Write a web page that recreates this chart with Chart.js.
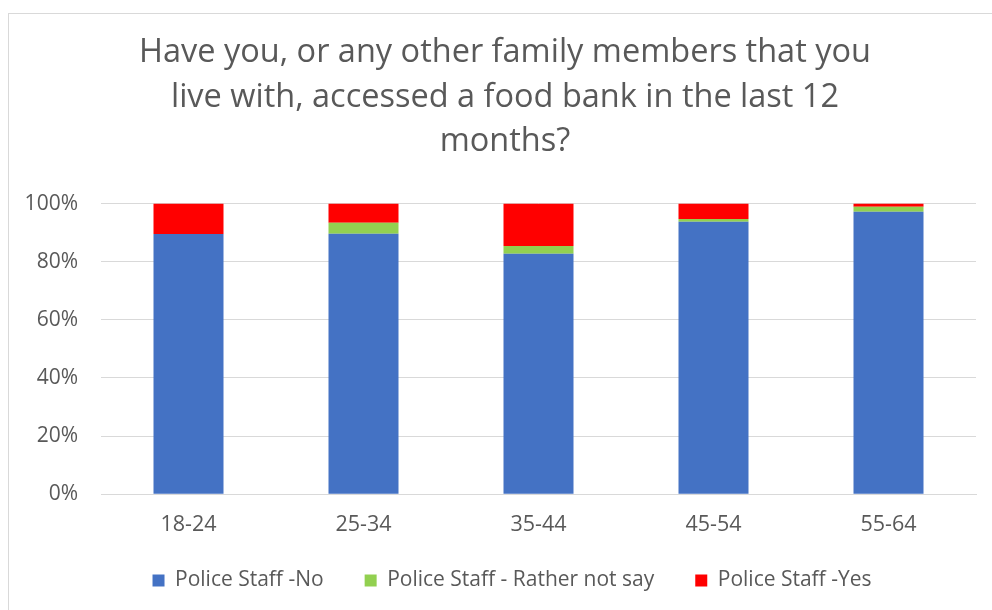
<!DOCTYPE html>
<html>
<head>
<meta charset="utf-8">
<script src="https://cdn.jsdelivr.net/npm/chart.js@4/dist/chart.umd.min.js"></script>
<style>
  html, body { margin: 0; padding: 0; background: #fff; }
  #frame {
    position: absolute; left: 8px; top: 13px; width: 1000px; height: 620px;
    border: 1px solid #d9d9d9; box-sizing: border-box;
  }
  #wrap { position: absolute; left: 0; top: 0; width: 992px; height: 610px; }
</style>
</head>
<body>
<div id="frame"></div>
<div id="wrap"><canvas id="myChart" width="992" height="610"></canvas></div>
<script>
const AGE_GROUPS = ['18-24', '25-34', '35-44', '45-54', '55-64'];

const STAFF_NO      = [89.5, 89.6, 82.7, 93.7, 97.2];
const STAFF_RATHER  = [0.0, 3.8, 2.7, 1.0, 1.7];
const STAFF_YES     = [10.5, 6.6, 14.6, 5.3, 1.1];

const Y_TICKS = [0, 20, 40, 60, 80, 100];

const TITLE_LINES = [
    'Have you, or any other family members that you',
    'live with, accessed a food bank in the last 12',
    'months?'
];

const TEXT_COLOR = '#595959';
const FONT = "'Open Sans', sans-serif";

// nudge title / legend after layout so they sit centred on the framed box
const nudgeBoxes = {
    id: 'nudgeBoxes',
    afterLayout(chart) {
        chart.titleBlock.left = 34;
        const lg = chart.legend;
        lg.left = 48;
        lg.top -= 19;
        lg.bottom -= 19;
    }
};

const ctx = document.getElementById('myChart').getContext('2d');

new Chart(ctx, {
    type: 'bar',
    data: {
        labels: AGE_GROUPS,
        datasets: [
            { label: 'Police Staff -No', data: STAFF_NO, backgroundColor: '#4472c4' },
            { label: 'Police Staff - Rather not say', data: STAFF_RATHER, backgroundColor: '#92d050' },
            { label: 'Police Staff -Yes', data: STAFF_YES, backgroundColor: '#ff0000' }
        ]
    },
    plugins: [nudgeBoxes],
    options: {
        responsive: false,
        animation: false,
        layout: { padding: { left: 8, right: 16, top: 30, bottom: 0 } },
        datasets: {
            bar: { categoryPercentage: 0.4, barPercentage: 1.0, borderWidth: 0 }
        },
        plugins: {
            title: {
                display: true,
                text: TITLE_LINES,
                color: TEXT_COLOR,
                font: { family: FONT, size: 32.5, weight: 'normal', lineHeight: 1.38 },
                padding: { top: 0, bottom: 39 }
            },
            legend: {
                position: 'bottom',
                maxHeight: 62,
                labels: {
                    color: TEXT_COLOR,
                    font: { family: FONT, size: 21 },
                    boxWidth: 12,
                    boxHeight: 12,
                    padding: 41
                }
            },
            tooltip: { enabled: false }
        },
        scales: {
            x: {
                stacked: true,
                grid: { display: false },
                border: { display: true, color: '#d9d9d9', width: 1 },
                ticks: { color: TEXT_COLOR, font: { family: FONT, size: 21.5 }, padding: 10 }
            },
            y: {
                stacked: true,
                min: 0,
                max: 100,
                afterFit: scale => { scale.width = 93; },
                afterBuildTicks: scale => { scale.ticks = Y_TICKS.map(v => ({ value: v })); },
                grid: { color: '#d9d9d9', drawTicks: false },
                border: { display: false },
                ticks: {
                    color: TEXT_COLOR,
                    font: { family: FONT, size: 21 },
                    padding: 23,
                    callback: v => v + '%'
                }
            }
        }
    }
});
</script>
</body>
</html>
